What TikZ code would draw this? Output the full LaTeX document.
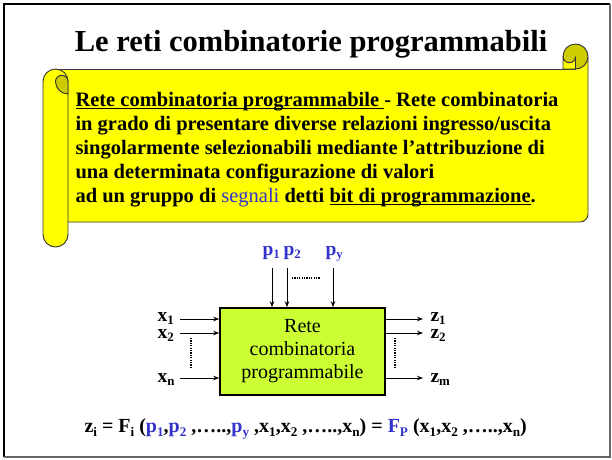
\documentclass[tikz,border=0pt]{standalone}
\usepackage{fontspec}
\setmainfont{Liberation Serif}
\usetikzlibrary{arrows.meta}
\definecolor{blu}{HTML}{3333CC}
\definecolor{scrollY}{HTML}{FFFF00}
\definecolor{curl}{HTML}{CCCC00}
\definecolor{boxg}{HTML}{CCFF33}
\newcommand\lo[1]{\raisebox{-0.2em}{\scalebox{0.66}{#1}}}
\newsavebox\ulbox
\newcommand\myul[1]{\sbox\ulbox{#1}\rlap{\rule[-3pt]{\wd\ulbox}{1.5pt}}\usebox\ulbox}
\begin{document}
\begin{tikzpicture}[x=1pt,y=-1pt,line width=1pt,
  txt/.style={inner sep=0pt,anchor=base west,font=\fontsize{20.5}{24}\selectfont\bfseries},
  lbl/.style={inner sep=0pt,anchor=base west,font=\fontsize{19.5}{20}\selectfont\bfseries},
  arr/.style={-{Stealth[length=6pt,width=4.5pt]},line width=0.9pt},
  dotline/.style={line width=1.3pt,dash pattern=on 1.2pt off 1.2pt},
  scr/.style={draw=black!80,line width=0.9pt}]
\useasboundingbox (0,0) rectangle (612,459);
% frame
\draw[line width=2pt] (4,457) -- (4,4) -- (610,4);
\draw[black!60,line width=1.2pt] (610,4) -- (610,457) -- (4,457);
% title
\node[inner sep=0pt,anchor=base,font=\fontsize{30.5}{36}\selectfont\bfseries] (title) at (311,51) {Le reti combinatorie programmabili};
% scroll body
\fill[scrollY] (55.5,69) -- (575.5,69) -- (575.5,56.5) -- (588,56.5) -- (588,214) arc[start angle=0,end angle=90,radius=8] -- (55.5,222) -- cycle;
\draw[scr] (55.5,69) -- (575.5,69);
\draw[scr] (588,56.5) -- (588,214) arc[start angle=0,end angle=90,radius=8] -- (68,222);
% right curl
\filldraw[scr,fill=curl] (575.5,56.5) circle[radius=12.5];
\filldraw[scr,fill=scrollY] (563,69) -- (563,56.5) arc[start angle=180,end angle=0,radius=6.25] -- (575.5,69) -- cycle;
% left roll
\filldraw[scr,fill=scrollY] (43,234.5) -- (43,81.5) arc[start angle=180,end angle=360,radius=12.5] -- (68,234.5) arc[start angle=0,end angle=180,radius=12.5] -- cycle;
\filldraw[scr,fill=curl] (55.5,81.5) arc[start angle=180,end angle=360,radius=6.25] -- (68,94) arc[start angle=90,end angle=180,radius=12.5] -- cycle;
% scroll text
\node[txt] (l1) at (75,106) {\myul{Rete combinatoria programmabile }- Rete combinatoria};
\node[txt] (l2) at (75,130) {in grado di presentare diverse relazioni ingresso/uscita};
\node[txt] (l3) at (75,154) {singolarmente selezionabili mediante l’attribuzione di};
\node[txt] (l4) at (75,178) {una determinata configurazione di valori};
\node[txt] (l5) at (75,202) {ad un gruppo di {\mdseries\color{blu}segnali} detti \myul{bit di programmazione}.};
% block
\node[draw,line width=1.6pt,fill=boxg,minimum width=165pt,minimum height=87pt,inner sep=0pt,align=center,font=\fontsize{20}{23}\selectfont] (rete) at (302.5,351.5) {Rete\\combinatoria\\programmabile};
% inputs
\coordinate (x1s) at (180,319);
\coordinate (x2s) at (180,333);
\coordinate (xns) at (180,378);
\draw[arr] (x1s) -- (x1s -| rete.west);
\draw[arr] (x2s) -- (x2s -| rete.west);
\draw[arr] (xns) -- (xns -| rete.west);
\node[lbl] (lx1) at (157,321) {x\lo{1}};
\node[lbl] (lx2) at (157,338) {x\lo{2}};
\node[lbl] (lxn) at (157,382) {x\lo{n}};
\coordinate (xd1) at (191,338);
\coordinate (xd2) at (191,367);
\draw[dotline] (xd1) -- (xd2);
% outputs
\coordinate (z1e) at (423,319);
\coordinate (z2e) at (423,333);
\coordinate (zme) at (423,378);
\draw[arr] (z1e -| rete.east) -- (z1e);
\draw[arr] (z2e -| rete.east) -- (z2e);
\draw[arr] (zme -| rete.east) -- (zme);
\node[lbl] (lz1) at (430,321) {z\lo{1}};
\node[lbl] (lz2) at (430,338) {z\lo{2}};
\node[lbl] (lzm) at (430,382) {z\lo{m}};
\coordinate (zd1) at (395,338);
\coordinate (zd2) at (395,367);
\draw[dotline] (zd1) -- (zd2);
% programming bits
\coordinate (p1s) at (272,268);
\coordinate (p2s) at (287,268);
\coordinate (pys) at (333,268);
\draw[arr] (p1s) -- (p1s |- rete.north);
\draw[arr] (p2s) -- (p2s |- rete.north);
\draw[arr] (pys) -- (pys |- rete.north);
\coordinate (pd1) at (292,278);
\coordinate (pd2) at (320,278);
\draw[dotline] (pd1) -- (pd2);
\node[lbl,text=blu] (lp1) at (262,255) {p\lo{1}};
\node[lbl,text=blu] (lp2) at (283,255) {p\lo{2}};
\node[lbl,text=blu] (lpy) at (325,255) {p\lo{y}};
% formula
\node[inner sep=0pt,anchor=base west,font=\fontsize{20}{22}\selectfont\bfseries] (formula) at (84,432)
  {z\lo{i} = F\lo{i} (\textcolor{blu}{p\lo{1}},\textcolor{blu}{p\lo{2}} ,…..,\textcolor{blu}{p\lo{y}} ,x\lo{1},x\lo{2} ,…..,x\lo{n})  = \textcolor{blu}{F\lo{P}} (x\lo{1},x\lo{2} ,…..,x\lo{n})};
\end{tikzpicture}
\end{document}
